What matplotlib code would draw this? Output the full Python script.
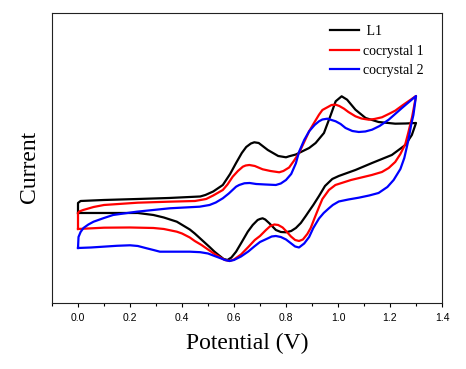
import numpy as np
import matplotlib
matplotlib.use('Agg')
import matplotlib.pyplot as plt
from matplotlib.ticker import MultipleLocator

# Cyclic voltammograms (current in arbitrary units)
# each loop: forward scan 0 -> 1.3 V, then reverse scan back to 0 V
l1_potential = [0.0, 0.0, 0.01, 0.10, 0.23, 0.35, 0.43, 0.47, 0.49, 0.52, 0.557, 0.585,
                0.608, 0.63, 0.647, 0.665, 0.678, 0.695, 0.71, 0.73, 0.75, 0.77, 0.80,
                0.812, 0.838, 0.863, 0.889, 0.914, 0.946, 0.972, 0.991, 1.014, 1.035,
                1.067, 1.106, 1.156, 1.22, 1.26, 1.30,
                1.284, 1.259, 1.207, 1.131, 1.067, 1.003, 0.978, 0.95, 0.927, 0.905,
                0.889, 0.876, 0.857, 0.838, 0.82, 0.80, 0.78, 0.761, 0.736, 0.72, 0.71,
                0.70, 0.691, 0.672, 0.653, 0.63, 0.608, 0.59, 0.575, 0.56, 0.543, 0.525,
                0.506, 0.487, 0.468, 0.449, 0.43, 0.38, 0.33, 0.29, 0.23, 0.10, 0.0]
l1_current = [9.0, 10.0, 10.2, 10.3, 10.4, 10.5, 10.6, 10.65, 10.8, 11.15, 11.8, 12.9,
              14.0, 15.0, 15.6, 15.95, 16.07, 16.0, 15.7, 15.3, 15.0, 14.7, 14.57,
              14.67, 14.85, 15.17, 15.5, 16.0, 17.0, 18.8, 20.17, 20.67, 20.33,
              19.33, 18.5, 18.1, 17.93, 17.95, 18.0,
              16.8, 15.8, 14.8, 14.0, 13.3, 12.7, 12.4, 11.7, 10.7, 9.8,
              9.2, 8.7, 8.0, 7.5, 7.2, 7.07, 7.1, 7.3, 7.97, 8.35, 8.47,
              8.4, 8.3, 7.8, 7.13, 6.1, 5.13, 4.55, 4.3, 4.4, 4.75, 5.13,
              5.6, 6.05, 6.5, 6.95, 7.35, 8.13, 8.55, 8.8, 9.0, 9.0, 9.0]

co1_potential = [0.0, 0.0, 0.005, 0.02, 0.06, 0.10, 0.23, 0.35, 0.45, 0.493, 0.52, 0.557,
                 0.575, 0.595, 0.615, 0.634, 0.645, 0.659, 0.68, 0.71, 0.74, 0.774, 0.79,
                 0.812, 0.83, 0.85, 0.87, 0.889, 0.91, 0.927, 0.94, 0.959, 0.975, 0.991,
                 1.005, 1.023, 1.04, 1.067, 1.09, 1.118, 1.14, 1.169, 1.195, 1.22, 1.25,
                 1.30,
                 1.285, 1.27, 1.259, 1.24, 1.22, 1.195, 1.169, 1.13, 1.05, 0.99, 0.965,
                 0.94, 0.927, 0.91, 0.895, 0.882, 0.865, 0.85, 0.835, 0.819, 0.80, 0.787,
                 0.77, 0.755, 0.74, 0.723, 0.70, 0.68, 0.655, 0.627, 0.60, 0.583, 0.565,
                 0.551, 0.525, 0.50, 0.475, 0.449, 0.43, 0.40, 0.38, 0.33, 0.29, 0.20,
                 0.10, 0.0]
co1_current = [7.4, 9.0, 9.15, 9.3, 9.6, 9.8, 10.03, 10.13, 10.2, 10.4, 10.75, 11.3,
               11.85, 12.63, 13.2, 13.63, 13.75, 13.8, 13.7, 13.37, 13.2, 13.07, 13.2,
               13.55, 14.2, 15.0, 16.1, 17.17, 18.1, 18.83, 19.3, 19.57, 19.8, 19.83,
               19.7, 19.43, 19.1, 18.67, 18.45, 18.33, 18.4, 18.57, 18.9, 19.23, 19.8,
               20.7,
               18.6, 17.0, 15.9, 14.9, 14.1, 13.5, 13.1, 12.8, 12.3, 11.8, 11.3,
               10.4, 9.6, 8.5, 7.5, 6.9, 6.35, 6.2, 6.3, 6.65, 7.2, 7.55,
               7.8, 7.85, 7.7, 7.3, 6.7, 6.3, 5.6, 4.85, 4.35, 4.2, 4.3,
               4.5, 4.9, 5.35, 5.8, 6.2, 6.55, 6.95, 7.13, 7.4, 7.5, 7.55,
               7.53, 7.4]

co2_potential = [0.0, 0.002, 0.01, 0.021, 0.04, 0.06, 0.10, 0.135, 0.226, 0.353, 0.468,
                 0.506, 0.53, 0.557, 0.58, 0.608, 0.62, 0.64, 0.66, 0.685, 0.72, 0.761,
                 0.78, 0.80, 0.82, 0.838, 0.85, 0.87, 0.889, 0.91, 0.927, 0.94, 0.959,
                 0.991, 1.01, 1.029, 1.055, 1.08, 1.105, 1.131, 1.16, 1.195, 1.246, 1.30,
                 1.29, 1.282, 1.27, 1.255, 1.24, 1.214, 1.19, 1.156, 1.12, 1.08, 1.04,
                 1.003, 0.98, 0.965, 0.945, 0.927, 0.905, 0.889, 0.87, 0.85, 0.835,
                 0.815, 0.80, 0.78, 0.761, 0.745, 0.729, 0.70, 0.678, 0.655, 0.627, 0.60,
                 0.583, 0.565, 0.551, 0.525, 0.50, 0.47, 0.43, 0.39, 0.315, 0.29, 0.264,
                 0.23, 0.20, 0.15, 0.097, 0.05, 0.0]
co2_current = [5.5, 6.6, 7.1, 7.5, 7.85, 8.13, 8.5, 8.8, 9.13, 9.47, 9.63,
               9.8, 10.05, 10.47, 10.95, 11.63, 11.8, 11.97, 12.0, 11.9, 11.85, 11.8,
               11.95, 12.3, 12.9, 13.97, 15.1, 16.3, 17.17, 17.8, 18.17, 18.35, 18.43,
               18.17, 17.9, 17.5, 17.2, 17.1, 17.15, 17.33, 17.7, 18.33, 19.5, 20.7,
               18.8, 17.9, 16.2, 14.5, 13.4, 12.3, 11.6, 11.0, 10.75, 10.53, 10.35,
               10.15, 9.8, 9.47, 9.0, 8.45, 7.5, 6.6, 5.95, 5.55, 5.65,
               6.05, 6.35, 6.6, 6.7, 6.65, 6.45, 6.1, 5.65, 5.15, 4.65, 4.3,
               4.2, 4.3, 4.45, 4.7, 4.95, 5.08, 5.13, 5.13, 5.13, 5.3, 5.47,
               5.7, 5.77, 5.72, 5.63, 5.55, 5.5]

fig = plt.figure(figsize=(4.66, 3.69), dpi=100)
ax = fig.add_axes([0.1116, 0.1789, 0.8369, 0.7859])

ax.plot(l1_potential, l1_current, color='black', lw=1.6, solid_joinstyle='round', label=' L1')
ax.plot(co1_potential, co1_current, color='red', lw=1.6, solid_joinstyle='round', label='cocrystal 1')
ax.plot(co2_potential, co2_current, color='blue', lw=1.6, solid_joinstyle='round', label='cocrystal 2')

ax.set_xlim(-0.1, 1.4)
ax.set_ylim(0, 29)
ax.xaxis.set_minor_locator(MultipleLocator(0.1))
ax.set_xticks(np.arange(0, 1.41, 0.2))
ax.set_xticklabels(['%.1f' % t for t in np.arange(0, 1.41, 0.2)],
                   fontfamily='Liberation Sans', fontsize=7.5)
ax.tick_params(axis='x', which='major', length=3, width=0.8, pad=4.5)
ax.tick_params(axis='x', which='minor', length=1.8, width=0.8)
ax.set_yticks([])
for s in ax.spines.values():
    s.set_linewidth(0.8)
    s.set_color('#222222')

ax.set_xlabel('Potential (V)', fontfamily='Liberation Serif', fontsize=17)
ax.set_ylabel('Current', fontfamily='Liberation Serif', fontsize=17)
ax.xaxis.set_label_coords(0.5, -0.103)
ax.yaxis.set_label_coords(-0.03, 0.47)

# legend without frame, top right inside the axes
ax.legend(loc='upper left', bbox_to_anchor=(0.713, 0.958), frameon=False,
          prop={'family': 'Liberation Serif', 'size': 10}, handlelength=2.1,
          handletextpad=0.27, labelspacing=0.47, borderpad=0, borderaxespad=0)

fig.savefig('out.png', dpi=100)
